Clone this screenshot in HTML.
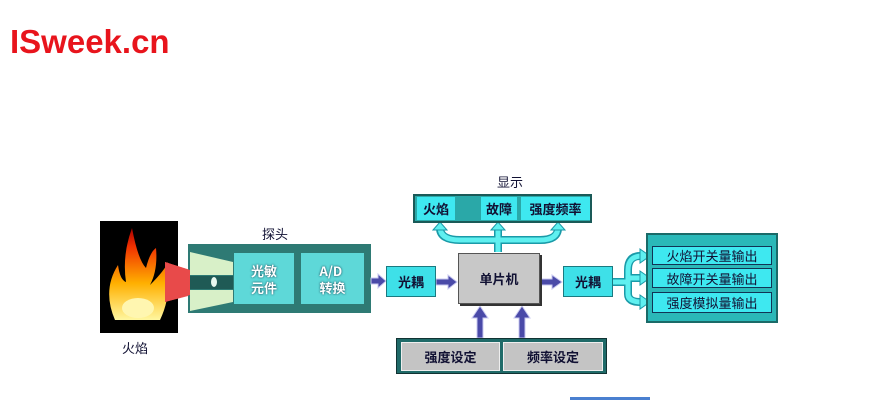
<!DOCTYPE html>
<html><head><meta charset="utf-8"><style>
body{margin:0;width:888px;height:400px;background:#fff;position:relative;overflow:hidden;font-family:"Liberation Sans","Noto Sans CJK SC",sans-serif}
.a{position:absolute;box-sizing:border-box}
.t{display:flex;align-items:center;justify-content:center;font-weight:bold;color:#113;font-size:13px;font-family:"Noto Sans CJK SC",sans-serif}
</style></head><body>
<div class="a" style="left:10px;top:23px;font-size:33px;font-weight:bold;color:#e8141c;line-height:37px">ISweek.cn</div>

<svg class="a" style="left:0;top:0" width="888" height="400">
<defs>
<linearGradient id="fl" x1="0" y1="1" x2="0" y2="0"><stop offset="0" stop-color="#fff7a0"/><stop offset="0.4" stop-color="#ffb000"/><stop offset="0.8" stop-color="#f03000"/><stop offset="1" stop-color="#a00"/></linearGradient>
</defs>
<rect x="100" y="221" width="78" height="112" fill="#000"/>
<path d="M115 320 Q102 290 118 265 Q120 280 126 282 Q122 255 132 228 Q138 260 146 268 Q150 252 156 248 Q158 270 150 285 Q165 270 168 262 Q172 295 160 320 Z" fill="url(#fl)"/>
<ellipse cx="138" cy="308" rx="16" ry="10" fill="#fff6b0"/>
<polygon points="165,262 215,278 215,289 165,302" fill="#e84a4a" opacity="0.9"/>
<rect x="188" y="244" width="183" height="69" fill="#2e7a74"/>
<polygon points="190,252 233,262 233,275 190,275" fill="#d8f0c8"/>
<polygon points="190,290 233,290 233,302 190,311" fill="#d8f0c8"/>
<rect x="190" y="276" width="43" height="13" fill="#1f5a55"/>
<polygon points="165,262 190,270 190,295 165,302" fill="#e84a4a"/>
<ellipse cx="214" cy="282" rx="3" ry="5" fill="#e8f8f0"/>
<g fill="#4a4aa8" stroke="#c8c8f0" stroke-width="1">
<polygon points="371,278 378,278 378,274 386,281 378,288 378,284 371,284"/>
<polygon points="436,279 448,279 448,275 457,282 448,289 448,285 436,285"/>
<polygon points="540,279 552,279 552,275 562,282 552,289 552,285 540,285"/>
<polygon points="477,338 477,318 472,318 480,306 488,318 483,318 483,338"/>
<polygon points="519,338 519,318 514,318 522,306 530,318 525,318 525,338"/>
</g>
<g fill="none" stroke="#1a9aa8" stroke-width="8">
<path d="M498 252 V238 M440 228 Q440 240 460 240 H540 Q558 240 558 228 M498 238 V228"/>
</g>
<g fill="none" stroke="#5ff0f0" stroke-width="5">
<path d="M498 252 V238 M440 227 Q440 240 460 240 H540 Q558 240 558 227 M498 238 V227"/>
</g>
<g fill="#5ff0f0" stroke="#1a9aa8" stroke-width="1">
<polygon points="433,230 440,222 447,230"/><polygon points="491,230 498,222 505,230"/><polygon points="551,230 558,222 565,230"/>
</g>
<g fill="none" stroke="#1a9aa8" stroke-width="8"><path d="M613 282 H628 M640 256 Q628 256 628 270 V294 Q628 302 640 302 M628 278 H640"/></g>
<g fill="none" stroke="#5ff0f0" stroke-width="5"><path d="M613 282 H628 M642 256 Q628 256 628 270 V294 Q628 302 642 302 M628 278 H642"/></g>
<g fill="#5ff0f0" stroke="#1a9aa8" stroke-width="1">
<polygon points="640,249 650,256 640,263"/><polygon points="640,271 650,278 640,285"/><polygon points="640,295 650,302 640,309"/>
</g>
<rect x="570" y="397" width="80" height="3" fill="#4a80d0"/>
</svg>

<div class="a t" style="left:233px;top:252px;width:62px;height:53px;background:#5ed8d8;border:1px solid #2e7a74;line-height:17px;color:#fff;text-shadow:0 0 2px #134">光敏<br>元件</div>
<div class="a t" style="left:300px;top:252px;width:65px;height:53px;background:#5ed8d8;border:1px solid #2e7a74;line-height:17px;color:#fff;text-shadow:0 0 2px #134">A/D<br>转换</div>
<div class="a t" style="left:255px;top:224px;width:40px;height:18px;font-weight:normal">探头</div>
<div class="a t" style="left:115px;top:338px;width:40px;height:18px;font-weight:normal">火焰</div>
<div class="a t" style="left:490px;top:172px;width:40px;height:18px;font-weight:normal">显示</div>

<div class="a t" style="left:386px;top:266px;width:50px;height:31px;background:#3ee0e8;border:1px solid #1a7a80">光耦</div>
<div class="a t" style="left:563px;top:266px;width:50px;height:31px;background:#3ee0e8;border:1px solid #1a7a80">光耦</div>
<div class="a t" style="left:458px;top:253px;width:82px;height:51px;background:#c8c8c8;border:1px solid #555;box-shadow:2px 2px 0 #333">单片机</div>

<div class="a" style="left:413px;top:194px;width:179px;height:29px;background:#2aa8a8;border:2px solid #1a5a58"></div>
<div class="a t" style="left:417px;top:197px;width:38px;height:23px;background:#3ee8f0">火焰</div>
<div class="a t" style="left:481px;top:197px;width:36px;height:23px;background:#3ee8f0">故障</div>
<div class="a t" style="left:521px;top:197px;width:69px;height:23px;background:#3ee8f0">强度频率</div>

<div class="a" style="left:646px;top:233px;width:132px;height:90px;background:#2ab8b8;border:2px solid #1a6a68"></div>
<div class="a t" style="left:652px;top:246px;width:120px;height:19px;background:#3ee8f0;border:1px solid #135;font-weight:normal">火焰开关量输出</div>
<div class="a t" style="left:652px;top:268px;width:120px;height:20px;background:#3ee8f0;border:1px solid #135;font-weight:normal">故障开关量输出</div>
<div class="a t" style="left:652px;top:292px;width:120px;height:21px;background:#3ee8f0;border:1px solid #135;font-weight:normal">强度模拟量输出</div>

<div class="a" style="left:396px;top:338px;width:211px;height:36px;background:#1f6a68;border:1px solid #133"></div>
<div class="a t" style="left:401px;top:342px;width:99px;height:29px;background:#c4c4c4;border:1px solid #eee">强度设定</div>
<div class="a t" style="left:503px;top:342px;width:100px;height:29px;background:#c4c4c4;border:1px solid #eee">频率设定</div>
</body></html>
